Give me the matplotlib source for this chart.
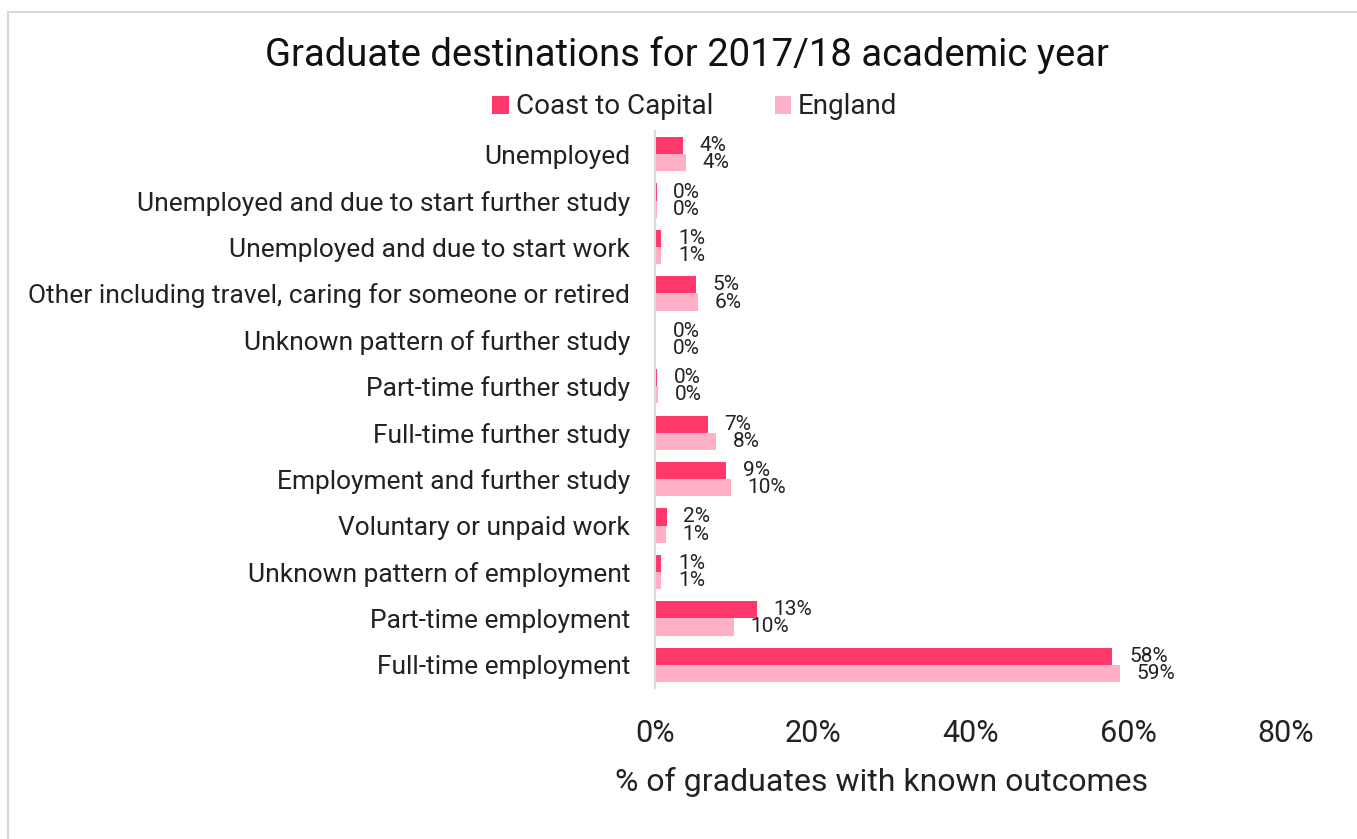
import matplotlib.pyplot as plt
import numpy as np
from matplotlib.patches import Rectangle

plt.rcParams["font.family"] = ["Roboto", "DejaVu Sans"]

categories = [
    "Unemployed",
    "Unemployed and due to start further study",
    "Unemployed and due to start work",
    "Other including travel, caring for someone or retired",
    "Unknown pattern of further study",
    "Part-time further study",
    "Full-time further study",
    "Employment and further study",
    "Voluntary or unpaid work",
    "Unknown pattern of employment",
    "Part-time employment",
    "Full-time employment",
]
coast_to_capital = [3.5, 0.2, 0.8, 5.2, 0.1, 0.3, 6.7, 9.0, 1.5, 0.8, 12.9, 58.0]
england = [3.9, 0.2, 0.8, 5.5, 0.1, 0.4, 7.7, 9.6, 1.4, 0.8, 10.0, 58.9]
series_names = ["Coast to Capital", "England"]
colors = ["#ff386c", "#ffafc6"]
x_ticks = [0, 20, 40, 60, 80]

W, H = 1357, 839
fig = plt.figure(figsize=(W / 100, H / 100), dpi=100)
ax = fig.add_axes([655 / W, 1 - 688 / H, (1286 - 655) / W, (688 - 131) / H])

# light frame round the chart
fig.patches.append(Rectangle((8 / W, -0.01), 1.1, 1 - 12 / H + 0.01,
                             transform=fig.transFigure, fill=False,
                             edgecolor="#d9d9d9", linewidth=1.5))

y = np.arange(len(categories))
h = 0.37
bars1 = ax.barh(y - h / 2, coast_to_capital, height=h, color=colors[0], label=series_names[0])
bars2 = ax.barh(y + h / 2, england, height=h, color=colors[1], label=series_names[1])

for bars, vals in [(bars1, coast_to_capital), (bars2, england)]:
    for b, v in zip(bars, vals):
        ax.annotate(f"{v:.0f}%", (v, b.get_y() + b.get_height() / 2),
                    xytext=(12, 0), textcoords="offset points",
                    ha="left", va="center", fontsize=15, color="#222222")

ax.set_xlim(0, 80)
ax.set_ylim(len(categories) - 0.5, -0.5)
ax.set_yticks(y)
ax.set_yticklabels(categories, fontsize=19, color="#222222")
ax.set_xticks(x_ticks)
ax.set_xticklabels([f"{t}%" for t in x_ticks], fontsize=22, color="#222222")
ax.tick_params(axis="both", length=0)
ax.tick_params(axis="x", pad=22)
ax.tick_params(axis="y", pad=18)
for side in ["top", "right", "bottom"]:
    ax.spines[side].set_visible(False)
ax.spines["left"].set_color("#d9d9d9")
ax.spines["left"].set_linewidth(1.5)

fig.text(882 / W, 1 - 782 / H, "% of graduates with known outcomes",
         ha="center", va="center", fontsize=23, color="#222222")

fig.text(687 / W, 1 - 55 / H, "Graduate destinations for 2017/18 academic year",
         ha="center", va="center", fontsize=27.5, color="#111111")
fig.legend(loc="center", bbox_to_anchor=(695 / W, 1 - 107 / H), ncol=2, frameon=False,
           fontsize=20, handlelength=0.6, handleheight=0.6, handletextpad=0.25,
           columnspacing=2.2, labelcolor="#222222")

fig.savefig("out.png", dpi=100)
